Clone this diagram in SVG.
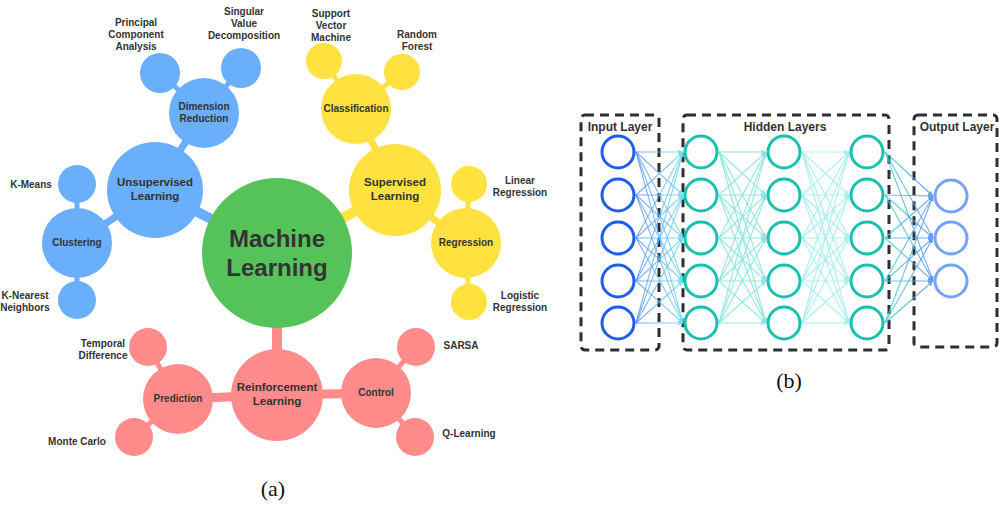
<svg xmlns="http://www.w3.org/2000/svg" width="999" height="506" viewBox="0 0 999 506">
<style>
.t{font-family:"Liberation Sans",Arial,sans-serif;font-weight:bold;fill:#333;text-anchor:middle}
.lf{font-size:10px}
.l2{font-size:10px}
.l1{font-size:11.5px}
.ml{font-size:24px}
.cap{font-family:"Liberation Serif","Times New Roman",serif;font-size:22px;fill:#111;text-anchor:middle}
.nl{font-family:"Liberation Sans",Arial,sans-serif;font-weight:bold;font-size:12px;fill:#333;text-anchor:middle}
.blue{fill:#6AAFFB}
.yel{fill:#FFE13F}
.red{fill:#FF8B8B}
.grn{fill:#55C35A}
.cb{stroke:#6AAFFB;stroke-linecap:butt}
.cy{stroke:#FFE13F}
.cr{stroke:#FF8B8B}
.box{fill:none;stroke:#2f2f33;stroke-width:3;stroke-dasharray:9 6}
.nin{fill:#fff;stroke:#1E5EEE;stroke-width:3}
.nh{fill:#fff;stroke:#17C1AE;stroke-width:3}
.nout{fill:#fff;stroke:#74A4F7;stroke-width:3}
.e1{stroke:url(#g1);stroke-width:1.1;marker-end:url(#m1);opacity:.8}
.e2{stroke:#86E6DE;stroke-width:1.1;marker-end:url(#m2);opacity:.9}
.e3{stroke:#A5EFEE;stroke-width:1.1;marker-end:url(#m3);opacity:.9}
.e4{stroke:url(#g4);stroke-width:1.1;marker-end:url(#m4);opacity:.85}
</style>
<defs>
<linearGradient id="g1" gradientUnits="userSpaceOnUse" x1="636" y1="0" x2="683" y2="0"><stop offset="0" stop-color="#5A92F4"/><stop offset="1" stop-color="#6ADAF4"/></linearGradient>
<linearGradient id="g4" gradientUnits="userSpaceOnUse" x1="885" y1="0" x2="933" y2="0"><stop offset="0" stop-color="#45D0DA"/><stop offset="1" stop-color="#5A96F2"/></linearGradient>
<marker id="m1" viewBox="0 0 6 6" refX="6" refY="3" markerWidth="5" markerHeight="5" markerUnits="userSpaceOnUse" orient="auto"><path d="M0,0 L6,3 L0,6 z" fill="#6ADAF4"/></marker>
<marker id="m2" viewBox="0 0 6 6" refX="6" refY="3" markerWidth="5" markerHeight="5" markerUnits="userSpaceOnUse" orient="auto"><path d="M0,0 L6,3 L0,6 z" fill="#86E6DE"/></marker>
<marker id="m3" viewBox="0 0 6 6" refX="6" refY="3" markerWidth="5" markerHeight="5" markerUnits="userSpaceOnUse" orient="auto"><path d="M0,0 L6,3 L0,6 z" fill="#A5EFEE"/></marker>
<marker id="m4" viewBox="0 0 6 6" refX="6" refY="3" markerWidth="5" markerHeight="5" markerUnits="userSpaceOnUse" orient="auto"><path d="M0,0 L6,3 L0,6 z" fill="#5A96F2"/></marker>
</defs>
<rect width="999" height="506" fill="#fff"/>

<g id="mindmap-connectors">
<line class="cb" x1="277" y1="253" x2="155" y2="190" stroke-width="10"/>
<line class="cb" x1="155" y1="190" x2="204" y2="113" stroke-width="7"/>
<line class="cb" x1="155" y1="190" x2="77" y2="243" stroke-width="7"/>
<line class="cb" x1="204" y1="113" x2="160" y2="73" stroke-width="5"/>
<line class="cb" x1="204" y1="113" x2="241" y2="68" stroke-width="5"/>
<line class="cb" x1="77" y1="243" x2="77" y2="184" stroke-width="5"/>
<line class="cb" x1="77" y1="243" x2="77" y2="300" stroke-width="5"/>
<line class="cy" x1="277" y1="253" x2="395" y2="190" stroke-width="10"/>
<line class="cy" x1="395" y1="190" x2="356" y2="109" stroke-width="7"/>
<line class="cy" x1="395" y1="190" x2="466" y2="243" stroke-width="7"/>
<line class="cy" x1="356" y1="109" x2="324" y2="61" stroke-width="5"/>
<line class="cy" x1="356" y1="109" x2="402" y2="72" stroke-width="5"/>
<line class="cy" x1="466" y1="243" x2="469" y2="184" stroke-width="5"/>
<line class="cy" x1="466" y1="243" x2="469" y2="302" stroke-width="5"/>
<line class="cr" x1="277" y1="253" x2="277" y2="395" stroke-width="10"/>
<line class="cr" x1="277" y1="395" x2="178" y2="399" stroke-width="9"/>
<line class="cr" x1="277" y1="395" x2="376" y2="393" stroke-width="9"/>
<line class="cr" x1="178" y1="399" x2="148" y2="347" stroke-width="5"/>
<line class="cr" x1="178" y1="399" x2="134" y2="437" stroke-width="5"/>
<line class="cr" x1="376" y1="393" x2="416" y2="347" stroke-width="5"/>
<line class="cr" x1="376" y1="393" x2="415" y2="437" stroke-width="5"/>
</g>

<g id="machine-learning"><circle class="grn" cx="277" cy="253" r="75"/><text class="t ml" x="277" y="247">Machine</text><text class="t ml" x="277" y="276">Learning</text></g>

<g id="unsupervised"><circle class="blue" cx="155" cy="190" r="48"/><text class="t l1" x="155" y="186">Unsupervised</text><text class="t l1" x="155" y="200">Learning</text></g>
<g id="dimension-reduction"><circle class="blue" cx="204" cy="113" r="35"/><text class="t l2" x="204" y="110">Dimension</text><text class="t l2" x="204" y="122">Reduction</text></g>
<g id="pca"><circle class="blue" cx="160" cy="73" r="20"/><text class="t lf" x="136" y="26">Principal</text><text class="t lf" x="136" y="38">Component</text><text class="t lf" x="136" y="50">Analysis</text></g>
<g id="svd"><circle class="blue" cx="241" cy="68" r="20"/><text class="t lf" x="244" y="15">Singular</text><text class="t lf" x="244" y="27">Value</text><text class="t lf" x="244" y="39">Decomposition</text></g>
<g id="clustering"><circle class="blue" cx="77" cy="243" r="35"/><text class="t l2" x="77" y="246">Clustering</text></g>
<g id="k-means"><circle class="blue" cx="77" cy="184" r="19"/><text class="t lf" x="31" y="188">K-Means</text></g>
<g id="knn"><circle class="blue" cx="77" cy="300" r="19"/><text class="t lf" x="25" y="299">K-Nearest</text><text class="t lf" x="25" y="311">Neighbors</text></g>

<g id="supervised"><circle class="yel" cx="395" cy="190" r="46"/><text class="t l1" x="395" y="186">Supervised</text><text class="t l1" x="395" y="200">Learning</text></g>
<g id="classification"><circle class="yel" cx="356" cy="109" r="35"/><text class="t l2" x="356" y="112">Classification</text></g>
<g id="svm"><circle class="yel" cx="324" cy="61" r="18"/><text class="t lf" x="331" y="17">Support</text><text class="t lf" x="331" y="29">Vector</text><text class="t lf" x="331" y="41">Machine</text></g>
<g id="random-forest"><circle class="yel" cx="402" cy="72" r="18"/><text class="t lf" x="417" y="38">Random</text><text class="t lf" x="417" y="50">Forest</text></g>
<g id="regression"><circle class="yel" cx="466" cy="243" r="35"/><text class="t l2" x="466" y="246">Regression</text></g>
<g id="linear-regression"><circle class="yel" cx="469" cy="184" r="18"/><text class="t lf" x="520" y="184">Linear</text><text class="t lf" x="520" y="196">Regression</text></g>
<g id="logistic-regression"><circle class="yel" cx="469" cy="302" r="18"/><text class="t lf" x="520" y="299">Logistic</text><text class="t lf" x="520" y="311">Regression</text></g>

<g id="reinforcement"><circle class="red" cx="277" cy="395" r="46"/><text class="t l1" x="277" y="391">Reinforcement</text><text class="t l1" x="277" y="405">Learning</text></g>
<g id="prediction"><circle class="red" cx="178" cy="399" r="35"/><text class="t l2" x="178" y="402">Prediction</text></g>
<g id="temporal-difference"><circle class="red" cx="148" cy="347" r="19"/><text class="t lf" x="103" y="347">Temporal</text><text class="t lf" x="103" y="359">Difference</text></g>
<g id="monte-carlo"><circle class="red" cx="134" cy="437" r="19"/><text class="t lf" x="77" y="445">Monte Carlo</text></g>
<g id="control"><circle class="red" cx="376" cy="393" r="35"/><text class="t l2" x="376" y="396">Control</text></g>
<g id="sarsa"><circle class="red" cx="416" cy="347" r="19"/><text class="t lf" x="461" y="349">SARSA</text></g>
<g id="q-learning"><circle class="red" cx="415" cy="437" r="19"/><text class="t lf" x="469" y="437">Q-Learning</text></g>

<text class="cap" x="273" y="496">(a)</text>

<g id="input-layer-box"><rect class="box" x="581" y="115" width="78" height="235" rx="4"/><text class="nl" x="620" y="131">Input Layer</text></g>
<g id="hidden-layers-box"><rect class="box" x="683" y="115" width="206" height="235" rx="4"/><text class="nl" x="785" y="131">Hidden Layers</text></g>
<g id="output-layer-box"><rect class="box" x="914" y="115" width="83" height="232" rx="4"/><text class="nl" x="957" y="131">Output Layer</text></g>

<g id="connectors">
<line class="e1" x1="636" y1="152" x2="683" y2="152"/><line class="e1" x1="636" y1="152" x2="683" y2="195"/><line class="e1" x1="636" y1="152" x2="683" y2="238"/><line class="e1" x1="636" y1="152" x2="683" y2="281"/><line class="e1" x1="636" y1="152" x2="683" y2="323"/>
<line class="e1" x1="636" y1="195" x2="683" y2="152"/><line class="e1" x1="636" y1="195" x2="683" y2="195"/><line class="e1" x1="636" y1="195" x2="683" y2="238"/><line class="e1" x1="636" y1="195" x2="683" y2="281"/><line class="e1" x1="636" y1="195" x2="683" y2="323"/>
<line class="e1" x1="636" y1="238" x2="683" y2="152"/><line class="e1" x1="636" y1="238" x2="683" y2="195"/><line class="e1" x1="636" y1="238" x2="683" y2="238"/><line class="e1" x1="636" y1="238" x2="683" y2="281"/><line class="e1" x1="636" y1="238" x2="683" y2="323"/>
<line class="e1" x1="636" y1="281" x2="683" y2="152"/><line class="e1" x1="636" y1="281" x2="683" y2="195"/><line class="e1" x1="636" y1="281" x2="683" y2="238"/><line class="e1" x1="636" y1="281" x2="683" y2="281"/><line class="e1" x1="636" y1="281" x2="683" y2="323"/>
<line class="e1" x1="636" y1="323" x2="683" y2="152"/><line class="e1" x1="636" y1="323" x2="683" y2="195"/><line class="e1" x1="636" y1="323" x2="683" y2="238"/><line class="e1" x1="636" y1="323" x2="683" y2="281"/><line class="e1" x1="636" y1="323" x2="683" y2="323"/>

<line class="e2" x1="719" y1="152" x2="766" y2="152"/><line class="e2" x1="719" y1="152" x2="766" y2="195"/><line class="e2" x1="719" y1="152" x2="766" y2="238"/><line class="e2" x1="719" y1="152" x2="766" y2="281"/><line class="e2" x1="719" y1="152" x2="766" y2="323"/>
<line class="e2" x1="719" y1="195" x2="766" y2="152"/><line class="e2" x1="719" y1="195" x2="766" y2="195"/><line class="e2" x1="719" y1="195" x2="766" y2="238"/><line class="e2" x1="719" y1="195" x2="766" y2="281"/><line class="e2" x1="719" y1="195" x2="766" y2="323"/>
<line class="e2" x1="719" y1="238" x2="766" y2="152"/><line class="e2" x1="719" y1="238" x2="766" y2="195"/><line class="e2" x1="719" y1="238" x2="766" y2="238"/><line class="e2" x1="719" y1="238" x2="766" y2="281"/><line class="e2" x1="719" y1="238" x2="766" y2="323"/>
<line class="e2" x1="719" y1="281" x2="766" y2="152"/><line class="e2" x1="719" y1="281" x2="766" y2="195"/><line class="e2" x1="719" y1="281" x2="766" y2="238"/><line class="e2" x1="719" y1="281" x2="766" y2="281"/><line class="e2" x1="719" y1="281" x2="766" y2="323"/>
<line class="e2" x1="719" y1="323" x2="766" y2="152"/><line class="e2" x1="719" y1="323" x2="766" y2="195"/><line class="e2" x1="719" y1="323" x2="766" y2="238"/><line class="e2" x1="719" y1="323" x2="766" y2="281"/><line class="e2" x1="719" y1="323" x2="766" y2="323"/>

<line class="e3" x1="802" y1="152" x2="849" y2="152"/><line class="e3" x1="802" y1="152" x2="849" y2="195"/><line class="e3" x1="802" y1="152" x2="849" y2="238"/><line class="e3" x1="802" y1="152" x2="849" y2="281"/><line class="e3" x1="802" y1="152" x2="849" y2="323"/>
<line class="e3" x1="802" y1="195" x2="849" y2="152"/><line class="e3" x1="802" y1="195" x2="849" y2="195"/><line class="e3" x1="802" y1="195" x2="849" y2="238"/><line class="e3" x1="802" y1="195" x2="849" y2="281"/><line class="e3" x1="802" y1="195" x2="849" y2="323"/>
<line class="e3" x1="802" y1="238" x2="849" y2="152"/><line class="e3" x1="802" y1="238" x2="849" y2="195"/><line class="e3" x1="802" y1="238" x2="849" y2="238"/><line class="e3" x1="802" y1="238" x2="849" y2="281"/><line class="e3" x1="802" y1="238" x2="849" y2="323"/>
<line class="e3" x1="802" y1="281" x2="849" y2="152"/><line class="e3" x1="802" y1="281" x2="849" y2="195"/><line class="e3" x1="802" y1="281" x2="849" y2="238"/><line class="e3" x1="802" y1="281" x2="849" y2="281"/><line class="e3" x1="802" y1="281" x2="849" y2="323"/>
<line class="e3" x1="802" y1="323" x2="849" y2="152"/><line class="e3" x1="802" y1="323" x2="849" y2="195"/><line class="e3" x1="802" y1="323" x2="849" y2="238"/><line class="e3" x1="802" y1="323" x2="849" y2="281"/><line class="e3" x1="802" y1="323" x2="849" y2="323"/>

<line class="e4" x1="885" y1="152" x2="933" y2="196"/><line class="e4" x1="885" y1="152" x2="933" y2="238"/><line class="e4" x1="885" y1="152" x2="933" y2="281"/>
<line class="e4" x1="885" y1="195" x2="933" y2="196"/><line class="e4" x1="885" y1="195" x2="933" y2="238"/><line class="e4" x1="885" y1="195" x2="933" y2="281"/>
<line class="e4" x1="885" y1="238" x2="933" y2="196"/><line class="e4" x1="885" y1="238" x2="933" y2="238"/><line class="e4" x1="885" y1="238" x2="933" y2="281"/>
<line class="e4" x1="885" y1="281" x2="933" y2="196"/><line class="e4" x1="885" y1="281" x2="933" y2="238"/><line class="e4" x1="885" y1="281" x2="933" y2="281"/>
<line class="e4" x1="885" y1="323" x2="933" y2="196"/><line class="e4" x1="885" y1="323" x2="933" y2="238"/><line class="e4" x1="885" y1="323" x2="933" y2="281"/>
</g>

<g id="input-1"><circle class="nin" cx="618" cy="152" r="16"/></g>
<g id="input-2"><circle class="nin" cx="618" cy="195" r="16"/></g>
<g id="input-3"><circle class="nin" cx="618" cy="238" r="16"/></g>
<g id="input-4"><circle class="nin" cx="618" cy="281" r="16"/></g>
<g id="input-5"><circle class="nin" cx="618" cy="323" r="16"/></g>
<g id="hidden1-1"><circle class="nh" cx="701" cy="152" r="16"/></g>
<g id="hidden1-2"><circle class="nh" cx="701" cy="195" r="16"/></g>
<g id="hidden1-3"><circle class="nh" cx="701" cy="238" r="16"/></g>
<g id="hidden1-4"><circle class="nh" cx="701" cy="281" r="16"/></g>
<g id="hidden1-5"><circle class="nh" cx="701" cy="323" r="16"/></g>
<g id="hidden2-1"><circle class="nh" cx="784" cy="152" r="16"/></g>
<g id="hidden2-2"><circle class="nh" cx="784" cy="195" r="16"/></g>
<g id="hidden2-3"><circle class="nh" cx="784" cy="238" r="16"/></g>
<g id="hidden2-4"><circle class="nh" cx="784" cy="281" r="16"/></g>
<g id="hidden2-5"><circle class="nh" cx="784" cy="323" r="16"/></g>
<g id="hidden3-1"><circle class="nh" cx="867" cy="152" r="16"/></g>
<g id="hidden3-2"><circle class="nh" cx="867" cy="195" r="16"/></g>
<g id="hidden3-3"><circle class="nh" cx="867" cy="238" r="16"/></g>
<g id="hidden3-4"><circle class="nh" cx="867" cy="281" r="16"/></g>
<g id="hidden3-5"><circle class="nh" cx="867" cy="323" r="16"/></g>
<g id="output-1"><circle class="nout" cx="951" cy="196" r="16"/></g>
<g id="output-2"><circle class="nout" cx="951" cy="238" r="16"/></g>
<g id="output-3"><circle class="nout" cx="951" cy="281" r="16"/></g>

<text class="cap" x="789" y="388">(b)</text>
</svg>
